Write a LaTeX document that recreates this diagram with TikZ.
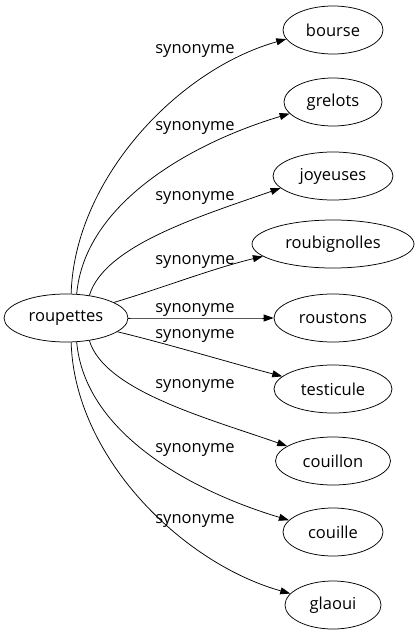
\documentclass[tikz,border=0pt]{standalone}
\usepackage{fontspec}
\setmainfont{Open Sans}
\usetikzlibrary{arrows.meta,shapes.geometric}
\begin{document}
\begin{tikzpicture}[x=1pt,y=1pt,>={Triangle[length=10pt,width=7pt]},line join=round,line width=0.75pt,
		font=\fontsize{16.5}{18}\selectfont,
		word/.style={draw,ellipse,inner sep=0pt,minimum height=48pt},
		syn/.style={anchor=base}]
	\useasboundingbox (0,0) rectangle (417,-635);
	\node[word,minimum width=124pt] (roupettes) at (66,-318) {roupettes};
	\foreach \n/\y/\w in {
		bourse/30/100,
		grelots/102/98,
		joyeuses/176/120,
		roubignolles/244/162,
		roustons/318/118,
		testicule/389/118,
		couillon/461/115,
		couille/532/100,
		glaoui/605/96
	}
	\node[word,minimum width=\w pt] (\n) at (333,-\y) {\n};
	\foreach \n/\a/\b/\c/\d/\l in {
		bourse/78/{3,113}/191/{-110,-31}/53,
		grelots/66/{8,90}/195/{-100,-30}/130,
		joyeuses/44/{15,50}/193/{-80,-28}/200,
		roubignolles/18/{50,15}/190/{-50,-12}/264,
		roustons/0/{40,0}/180/{-40,0}/312,
		testicule/-15/{50,-12}/166/{-50,13}/338,
		couillon/-44/{15,-50}/162/{-80,28}/388,
		couille/-66/{8,-90}/165/{-100,30}/452,
		glaoui/-78/{3,-113}/165/{-110,31}/523
	}{
		\draw[->] (roupettes.\a) .. controls +(\b) and +(\d) .. (\n.\c);
		\node[syn] (l\n) at (195,-\l) {synonyme};
	}
\end{tikzpicture}
\end{document}
